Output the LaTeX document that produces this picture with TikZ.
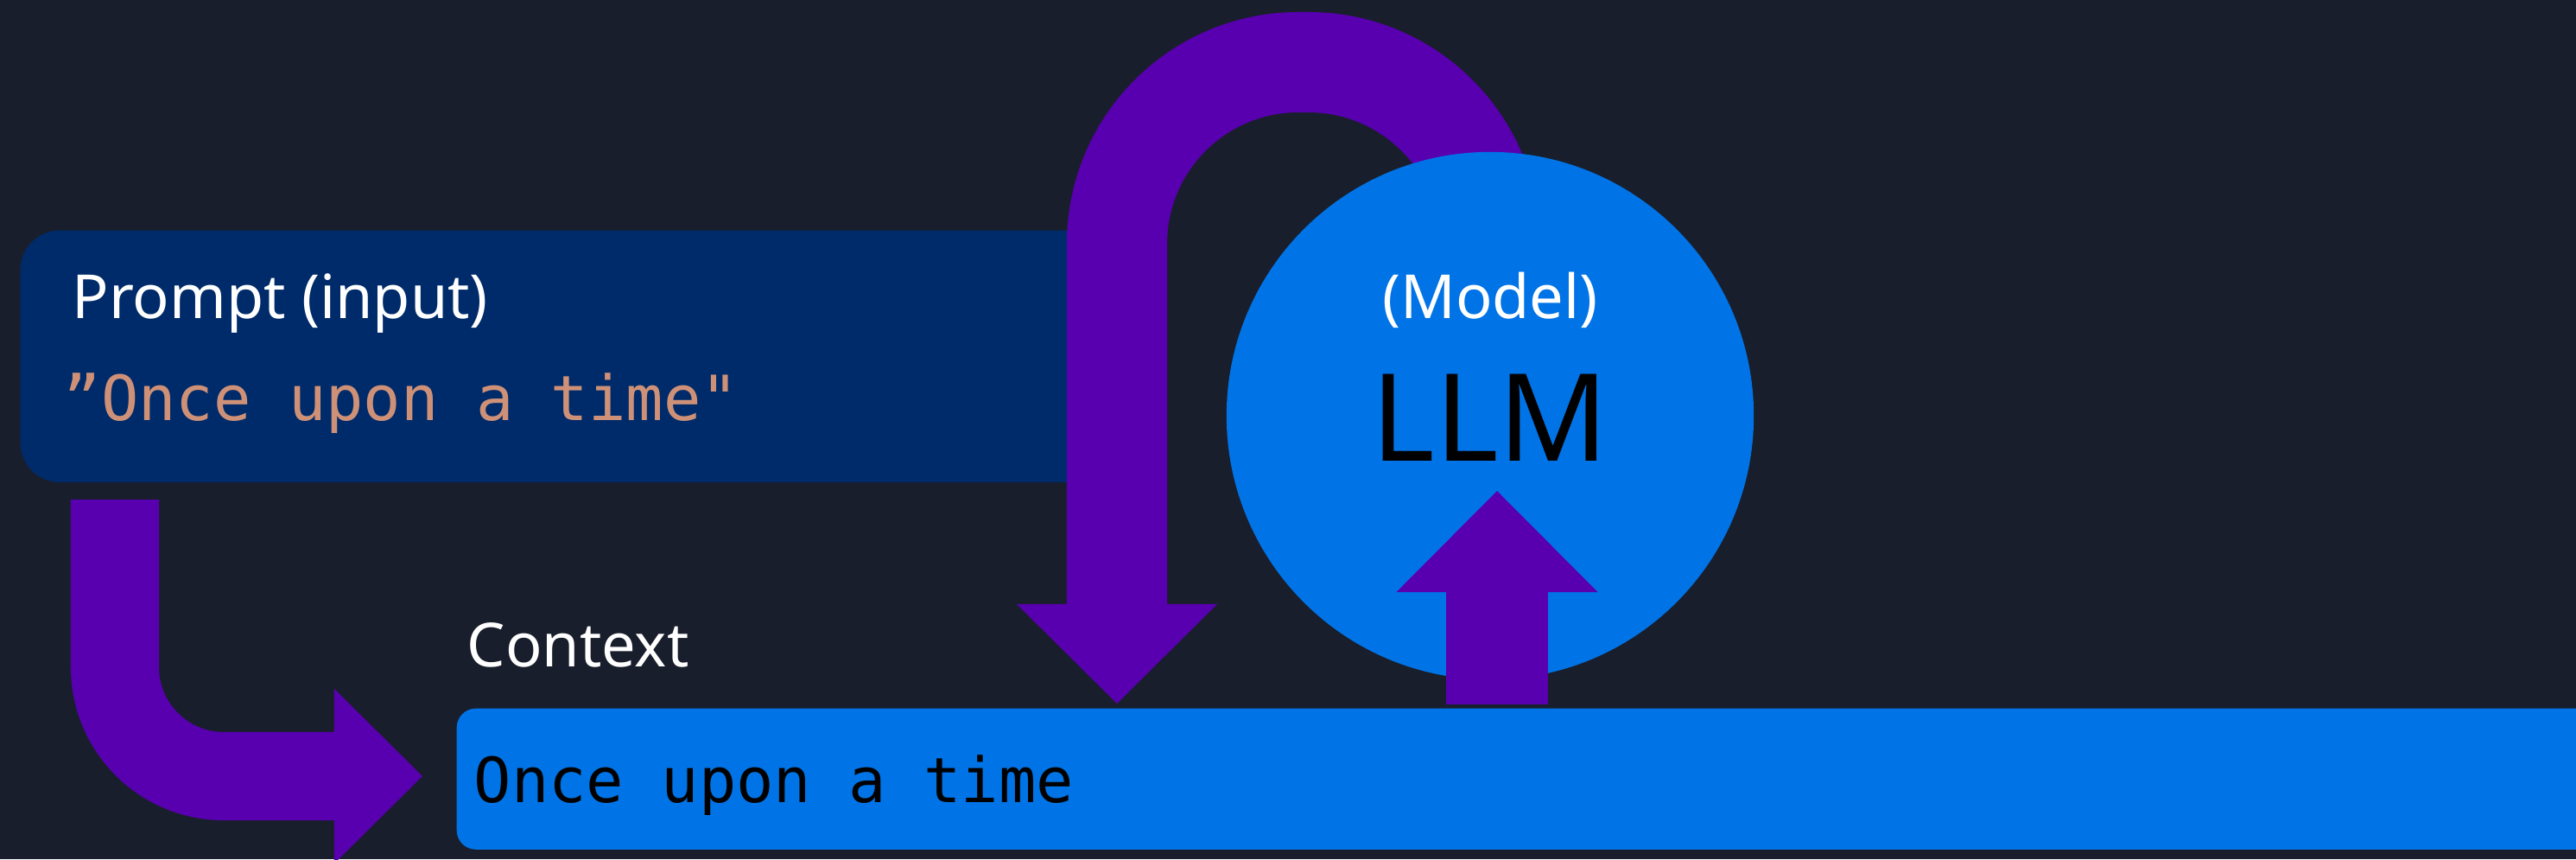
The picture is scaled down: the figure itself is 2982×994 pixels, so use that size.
\documentclass[tikz,border=0pt]{standalone}
\usepackage{fontspec}
\setmainfont{Noto Sans}
\setmonofont{DejaVu Sans Mono}
\usetikzlibrary{positioning,arrows.meta}

\definecolor{bgdark}{HTML}{191E2C}
\definecolor{promptblue}{HTML}{002B6A}
\definecolor{llmblue}{HTML}{0074E6}
\definecolor{flowpurple}{HTML}{5800B0}
\definecolor{strsalmon}{HTML}{CE9178}

\begin{document}
\begin{tikzpicture}[x=0.01cm, y=-0.01cm,
    lbl/.style={text=white, inner sep=0pt, font=\fontsize{20}{24}\selectfont},
    code/.style={inner sep=0pt, anchor=base west, font=\ttfamily\fontsize{20.5}{24}\selectfont},
    flow/.style={draw=flowpurple, line cap=butt}]

    % background
    \fill[bgdark] (0,0) rectangle (2982,994);
    \useasboundingbox (0,0) rectangle (2982,994);

    % prompt
    \node[fill=promptblue, rounded corners=0.45cm, minimum width=12.7cm, minimum height=2.91cm, anchor=north west, inner sep=0pt] (prompt) at (23,266) {};
    \node[lbl, anchor=base west] (promptlbl) at (83,368) {Prompt (input)};
    \node[code, text=strsalmon] (promptstr) at (73,486) {”Once upon a time"};

    % loop back from the model into the context
    \coordinate (loopend) at (1293,814);
    \draw[flow, line width=1.16cm, rounded corners=2.1cm, -{Triangle[width=2.32cm, length=1.15cm, line width=0pt]}]
        (1725,481) -- (1725,72) -- (1293,72) -- (loopend);

    % model
    \node[circle, fill=llmblue, minimum size=6.1cm, inner sep=0pt] (llm) at (1725,481) {};
    \node[lbl, anchor=base] (modellbl) at (1725,368) {(Model)};
    \node[inner sep=0pt, anchor=base, font=\fontsize{40}{48}\selectfont] (llmlbl) at (1725,533) {LLM};

    % context into the model
    \coordinate (upstart) at (1733,815);
    \coordinate (uptip) at (1733,568);
    \draw[flow, line width=1.18cm, -{Triangle[width=2.33cm, length=1.17cm, line width=0pt]}] (upstart) -- (uptip);

    % context
    \node[lbl, anchor=base west] (ctxlbl) at (540,771) {Context};
    \node[fill=llmblue, rounded corners=0.22cm, minimum width=25cm, minimum height=1.63cm, anchor=north west, inner sep=0pt] (ctx) at (528,819) {};
    \node[code, text=black] (ctxstr) at (548,928) {Once upon a time};

    % prompt into the context
    \coordinate (feedstart) at (133,578);
    \coordinate (feedtip) at (489,898);
    \draw[flow, line width=1.02cm, rounded corners=1.26cm, -{Triangle[width=2.02cm, length=1.02cm, line width=0pt]}]
        (feedstart) |- (feedtip);
\end{tikzpicture}
\end{document}
